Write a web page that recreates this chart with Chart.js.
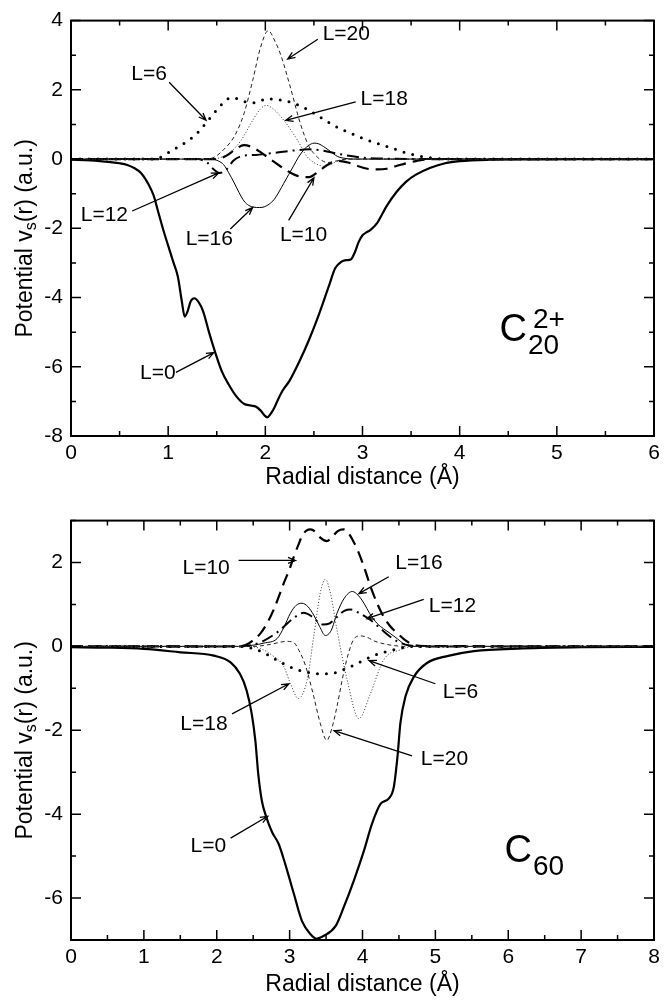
<!DOCTYPE html>
<html>
<head>
<meta charset="utf-8">
<script src="https://cdn.jsdelivr.net/npm/chart.js@4.4.1/dist/chart.umd.min.js"></script>
<style>
  body { margin: 0; background: #fff; }
  canvas { display: block; }
</style>
</head>
<body>
<canvas id="c20" width="666" height="500"></canvas>
<canvas id="c60" width="666" height="501"></canvas>
<script>
const FONT = "'Liberation Sans', Arial, Helvetica, sans-serif";

// ---- C20 2+ : partial potentials v_s(r), r in Angstrom, v in a.u. ----
const r20_L0 = [0, 0.2, 0.41, 0.5, 0.58, 0.65, 0.72, 0.8, 0.85, 0.9, 0.95, 1.0, 1.05, 1.1, 1.14, 1.17, 1.2, 1.23, 1.27, 1.31, 1.36, 1.42, 1.48, 1.55, 1.62, 1.7, 1.78, 1.85, 1.9, 1.95, 1.99, 2.02, 2.05, 2.09, 2.13, 2.18, 2.25, 2.35, 2.45, 2.55, 2.65, 2.72, 2.78, 2.83, 2.88, 2.92, 2.96, 3.0, 3.04, 3.08, 3.15, 3.25, 3.35, 3.45, 3.55, 3.7, 3.85, 4.0, 4.3, 4.7, 5.2, 6.0];
const v20_L0 = [-0.02, -0.04, -0.09, -0.12, -0.17, -0.26, -0.4, -0.74, -1.05, -1.55, -2.05, -2.5, -2.95, -3.4, -4.1, -4.55, -4.4, -4.12, -4.02, -4.12, -4.4, -5.0, -5.55, -6.12, -6.5, -6.85, -7.07, -7.12, -7.15, -7.26, -7.4, -7.46, -7.38, -7.2, -6.95, -6.68, -6.4, -5.85, -5.22, -4.5, -3.7, -3.15, -2.97, -2.92, -2.9, -2.7, -2.4, -2.2, -2.12, -2.05, -1.85, -1.35, -0.95, -0.65, -0.45, -0.25, -0.12, -0.06, -0.02, -0.01, 0, 0];

const r20_L6 = [0, 0.8, 0.9, 1.0, 1.1, 1.2, 1.3, 1.4, 1.5, 1.58, 1.65, 1.72, 1.8, 1.88, 1.95, 2.02, 2.1, 2.2, 2.3, 2.4, 2.5, 2.6, 2.7, 2.8, 2.9, 3.0, 3.1, 3.2, 3.3, 3.4, 3.5, 3.6, 3.7, 3.8, 4.0, 6.0];
const v20_L6 = [0, 0, 0.03, 0.18, 0.35, 0.52, 0.75, 1.08, 1.42, 1.66, 1.78, 1.74, 1.65, 1.63, 1.68, 1.75, 1.72, 1.69, 1.6, 1.48, 1.32, 1.15, 0.98, 0.84, 0.72, 0.6, 0.5, 0.41, 0.32, 0.22, 0.14, 0.08, 0.04, 0.01, 0, 0];

const r20_L10 = [0, 1.5, 1.6, 1.7, 1.78, 1.86, 1.95, 2.05, 2.15, 2.25, 2.35, 2.45, 2.55, 2.65, 2.75, 2.85, 2.95, 3.05, 3.15, 3.25, 3.35, 3.45, 3.55, 3.7, 6];
const v20_L10 = [0, 0, 0.1, 0.3, 0.4, 0.35, 0.2, 0, -0.2, -0.38, -0.5, -0.52, -0.35, -0.15, -0.05, -0.1, -0.2, -0.28, -0.3, -0.28, -0.2, -0.12, -0.06, 0, 0];

const r20_L12 = [0, 1.3, 1.4, 1.47, 1.53, 1.6, 1.67, 1.75, 1.9, 2.1, 2.3, 2.45, 2.6, 2.75, 2.9, 3.05, 3.3, 3.6, 6];
const v20_L12 = [0, 0, -0.1, -0.3, -0.4, -0.3, -0.05, 0.08, 0.12, 0.18, 0.25, 0.28, 0.24, 0.15, 0.08, 0.03, 0.01, 0, 0];

const r20_L16 = [0, 1.45, 1.52, 1.57, 1.62, 1.68, 1.73, 1.78, 1.83, 1.88, 1.94, 1.99, 2.04, 2.09, 2.14, 2.19, 2.24, 2.29, 2.34, 2.4, 2.45, 2.5, 2.55, 2.6, 2.67, 2.74, 2.82, 2.9, 6];
const v20_L16 = [0, 0, -0.06, -0.16, -0.38, -0.69, -0.97, -1.21, -1.34, -1.39, -1.4, -1.38, -1.3, -1.17, -0.95, -0.7, -0.45, -0.2, 0.05, 0.28, 0.4, 0.46, 0.44, 0.36, 0.22, 0.08, 0.02, 0, 0];

const r20_L18 = [0, 1.45, 1.52, 1.63, 1.75, 1.87, 1.95, 2.01, 2.08, 2.19, 2.33, 2.43, 2.54, 2.62, 2.71, 2.8, 2.9, 6];
const v20_L18 = [0, 0, 0.03, 0.17, 0.54, 1.12, 1.45, 1.55, 1.45, 1.12, 0.55, 0.07, -0.16, -0.21, -0.1, -0.02, 0, 0];

const r20_L20 = [0, 1.4, 1.49, 1.57, 1.68, 1.78, 1.87, 1.95, 2.03, 2.1, 2.16, 2.26, 2.36, 2.45, 2.52, 2.57, 2.64, 2.72, 2.85, 6];
const v20_L20 = [0, 0, 0.08, 0.27, 0.65, 1.31, 2.27, 3.22, 3.71, 3.4, 3.0, 2.05, 1.03, 0.36, 0.1, -0.02, -0.1, -0.06, 0, 0];

// ---- C60 ----
const r60_L0 = [0, 0.5, 1.0, 1.5, 1.96, 2.19, 2.32, 2.41, 2.48, 2.53, 2.57, 2.62, 2.68, 2.76, 2.85, 2.94, 3.06, 3.17, 3.29, 3.37, 3.47, 3.63, 3.74, 3.88, 4.02, 4.13, 4.25, 4.36, 4.43, 4.48, 4.52, 4.59, 4.71, 4.89, 5.16, 5.53, 6.2, 7.0, 8.0];
const v60_L0 = [-0.02, -0.03, -0.06, -0.14, -0.22, -0.38, -0.66, -1.05, -1.61, -2.25, -3.05, -3.69, -4.07, -4.43, -4.71, -5.19, -5.91, -6.55, -6.87, -6.97, -6.9, -6.67, -6.23, -5.59, -4.87, -4.23, -3.75, -3.63, -3.35, -2.63, -1.83, -1.19, -0.71, -0.39, -0.23, -0.11, -0.05, -0.02, -0.01];

const r60_L6 = [0, 2.3, 2.5, 2.7, 2.83, 3.06, 3.2, 3.38, 3.56, 3.7, 3.84, 3.97, 4.11, 4.25, 4.38, 4.55, 4.7, 8];
const v60_L6 = [0, 0, -0.05, -0.2, -0.33, -0.53, -0.6, -0.65, -0.65, -0.58, -0.48, -0.37, -0.25, -0.16, -0.1, -0.03, 0, 0];

const r60_L10 = [0, 2.2, 2.37, 2.48, 2.6, 2.7, 2.78, 2.85, 2.92, 3.0, 3.06, 3.12, 3.17, 3.23, 3.29, 3.36, 3.43, 3.51, 3.58, 3.66, 3.74, 3.8, 3.87, 3.93, 4.02, 4.11, 4.2, 4.29, 4.38, 4.48, 4.6, 4.71, 4.85, 8];
const v60_L10 = [0, 0, 0.02, 0.12, 0.31, 0.58, 0.87, 1.18, 1.51, 1.85, 2.15, 2.42, 2.63, 2.76, 2.79, 2.72, 2.58, 2.51, 2.6, 2.75, 2.79, 2.72, 2.52, 2.31, 1.9, 1.43, 1.03, 0.71, 0.48, 0.31, 0.13, 0.03, 0.01, 0];

const r60_L12 = [0, 2.3, 2.5, 2.65, 2.8, 2.92, 3.05, 3.19, 3.3, 3.38, 3.46, 3.55, 3.65, 3.75, 3.84, 3.95, 4.11, 4.25, 4.38, 4.5, 4.65, 4.8, 8];
const v60_L12 = [0, 0, 0.04, 0.14, 0.3, 0.47, 0.67, 0.8, 0.72, 0.6, 0.52, 0.55, 0.7, 0.85, 0.88, 0.8, 0.63, 0.42, 0.23, 0.1, 0.02, 0, 0];

const r60_L16 = [0, 2.3, 2.5, 2.65, 2.83, 2.92, 3.01, 3.09, 3.17, 3.25, 3.33, 3.41, 3.49, 3.57, 3.65, 3.75, 3.86, 3.94, 4.02, 4.1, 4.2, 4.29, 4.38, 4.48, 4.57, 4.7, 8];
const v60_L16 = [0, 0, 0.03, 0.08, 0.19, 0.45, 0.79, 0.98, 1.03, 0.95, 0.75, 0.48, 0.26, 0.38, 0.79, 1.15, 1.31, 1.22, 1.03, 0.78, 0.55, 0.42, 0.31, 0.18, 0.06, 0, 0];

const r60_L18 = [0, 2.4, 2.6, 2.75, 2.92, 3.01, 3.12, 3.24, 3.33, 3.42, 3.49, 3.56, 3.65, 3.79, 3.95, 4.11, 4.29, 4.52, 4.7, 8];
const v60_L18 = [0, 0, -0.05, -0.2, -0.48, -0.88, -1.24, -0.8, 0.23, 1.27, 1.6, 1.27, 0.39, -0.8, -1.72, -1.12, -0.32, -0.08, 0, 0];

const r60_L20 = [0, 2.5, 2.74, 2.96, 3.05, 3.13, 3.22, 3.33, 3.42, 3.51, 3.58, 3.65, 3.74, 3.81, 3.88, 3.97, 4.06, 4.16, 4.3, 4.43, 4.6, 8];
const v60_L20 = [0, 0, 0.05, 0.12, 0.1, -0.1, -0.47, -1.19, -1.83, -2.24, -1.95, -1.43, -0.64, -0.15, 0.17, 0.25, 0.22, 0.13, 0.06, 0.02, 0, 0];

// curve labels: text anchor (left, middle), arrow tail and arrow head, in data units
const notes20 = [
  { text: 'L=20', at: [2.59, 3.6],   from: [2.54, 3.46],  to: [2.23, 2.89] },
  { text: 'L=6',  at: [0.62, 2.45],  from: [1.01, 2.22],  to: [1.39, 1.12] },
  { text: 'L=18', at: [2.98, 1.74],  from: [2.93, 1.65],  to: [2.21, 1.12] },
  { text: 'L=12', at: [0.1, -1.63],  from: [0.63, -1.5],  to: [1.52, -0.4] },
  { text: 'L=16', at: [1.18, -2.31], from: [1.64, -2.02], to: [1.87, -1.4] },
  { text: 'L=10', at: [2.15, -2.2],  from: [2.24, -1.77], to: [2.5, -0.54] },
  { text: 'L=0',  at: [0.71, -6.2],  from: [1.08, -6.16], to: [1.47, -5.59] }
];
const notes60 = [
  { text: 'L=10', at: [1.53, 1.87],  from: [2.3, 2.05],   to: [3.08, 2.05] },
  { text: 'L=16', at: [4.45, 1.99],  from: [4.36, 1.66],  to: [3.95, 1.26] },
  { text: 'L=12', at: [4.91, 0.96],  from: [4.84, 1.12],  to: [4.06, 0.66] },
  { text: 'L=6',  at: [5.1, -1.1],   from: [5.0, -0.89],  to: [4.09, -0.34] },
  { text: 'L=18', at: [1.5, -1.85],  from: [2.21, -1.61], to: [2.99, -0.89] },
  { text: 'L=20', at: [4.8, -2.69],  from: [4.68, -2.61], to: [3.61, -2.01] },
  { text: 'L=0',  at: [1.64, -4.77], from: [2.19, -4.57], to: [2.7, -4.05] }
];

// line style per angular momentum
const LINE_STYLE = {
  0:  { width: 2.2, dash: [] },
  6:  { width: 3,   dash: [0, 9], cap: 'round' },
  10: { width: 2.2, dash: [12, 7] },
  12: { width: 2,   dash: [12, 5, 2, 5] },
  16: { width: 1,   dash: [] },
  18: { width: 1,   dash: [1, 2], color: '#333' },
  20: { width: 1,   dash: [4, 3], color: '#222' }
};

function curve(L, r, v) {
  const s = LINE_STYLE[L];
  return {
    label: 'L=' + L,
    data: r.map((x, i) => ({ x, y: v[i] })),
    borderColor: s.color || '#000',
    borderWidth: s.width,
    borderDash: s.dash,
    borderCapStyle: s.cap || 'butt',
    pointRadius: 0,
    cubicInterpolationMode: 'monotone',
    fill: false
  };
}

function isMultiple(v, step) {
  const q = v / step;
  return Math.abs(q - Math.round(q)) < 1e-6;
}

function arrow(ctx, x0, y0, x1, y1) {
  const a = Math.atan2(y1 - y0, x1 - x0);
  const len = 8, spread = 0.38;
  ctx.beginPath();
  ctx.moveTo(x0, y0);
  ctx.lineTo(x1, y1);
  ctx.moveTo(x1 - len * Math.cos(a - spread), y1 - len * Math.sin(a - spread));
  ctx.lineTo(x1, y1);
  ctx.lineTo(x1 - len * Math.cos(a + spread), y1 - len * Math.sin(a + spread));
  ctx.stroke();
}

// frame with inward ticks, axis titles, curve labels and the molecule name
const framePlugin = {
  id: 'frame',
  afterDatasetsDraw(chart, args, opts) {
    const { ctx, chartArea: a, scales: { x, y } } = chart;
    ctx.save();
    ctx.strokeStyle = '#000';
    ctx.fillStyle = '#000';
    ctx.lineWidth = 2;
    ctx.strokeRect(a.left, a.top, a.right - a.left, a.bottom - a.top);

    ctx.lineWidth = 1.5;
    ctx.beginPath();
    for (let v = x.min; v <= x.max + 1e-9; v += opts.xMinor) {
      const px = x.getPixelForValue(v);
      const len = isMultiple(v, opts.xMajor) ? 10 : 5;
      ctx.moveTo(px, a.bottom); ctx.lineTo(px, a.bottom - len);
      ctx.moveTo(px, a.top); ctx.lineTo(px, a.top + len);
    }
    for (let v = y.min; v <= y.max + 1e-9; v += opts.yMinor) {
      const py = y.getPixelForValue(v);
      const len = isMultiple(v, opts.yMajor) ? 10 : 5;
      ctx.moveTo(a.left, py); ctx.lineTo(a.left + len, py);
      ctx.moveTo(a.right, py); ctx.lineTo(a.right - len, py);
    }
    ctx.stroke();

    // x title
    ctx.font = `23px ${FONT}`;
    ctx.textAlign = 'center';
    ctx.textBaseline = 'middle';
    ctx.fillText('Radial distance (Å)', (a.left + a.right) / 2, a.bottom + opts.titleGap);

    // y title with subscript, rotated
    const parts = [['Potential v', 23, 0], ['s', 16, 6], ['(r) (a.u.)', 23, 0]];
    let total = 0;
    parts.forEach(p => { ctx.font = `${p[1]}px ${FONT}`; p.push(ctx.measureText(p[0]).width); total += p[3]; });
    ctx.save();
    ctx.translate(26, (a.top + a.bottom) / 2 + 10);
    ctx.rotate(-Math.PI / 2);
    ctx.textAlign = 'left';
    let cx = -total / 2;
    parts.forEach(p => {
      ctx.font = `${p[1]}px ${FONT}`;
      ctx.fillText(p[0], cx, p[2]);
      cx += p[3];
    });
    ctx.restore();

    // curve labels with arrows
    ctx.font = `21px ${FONT}`;
    ctx.textAlign = 'left';
    ctx.textBaseline = 'middle';
    ctx.lineWidth = 1.3;
    opts.notes.forEach(n => {
      ctx.fillText(n.text, x.getPixelForValue(n.at[0]), y.getPixelForValue(n.at[1]));
      arrow(ctx, x.getPixelForValue(n.from[0]), y.getPixelForValue(n.from[1]),
        x.getPixelForValue(n.to[0]), y.getPixelForValue(n.to[1]));
    });

    // molecule symbol
    const m = opts.molecule;
    const mx = x.getPixelForValue(m.at[0]), my = y.getPixelForValue(m.at[1]);
    ctx.textBaseline = 'alphabetic';
    ctx.font = `38px ${FONT}`;
    ctx.fillText('C', mx, my);
    const cw = ctx.measureText('C').width;
    ctx.font = `28px ${FONT}`;
    ctx.fillText(m.sub, mx + cw + 1, my + 13);
    if (m.sup) ctx.fillText(m.sup, mx + cw + 6, my - 13);
    ctx.restore();
  }
};

function makePanel(id, cfg) {
  new Chart(document.getElementById(id), {
    type: 'line',
    data: { datasets: cfg.datasets },
    options: {
      responsive: false,
      animation: false,
      layout: { padding: { top: cfg.padTop, right: 12, left: 0, bottom: 0 } },
      plugins: {
        legend: { display: false },
        tooltip: { enabled: false },
        frame: {
          xMajor: 1, xMinor: 0.5, yMajor: 2, yMinor: 1,
          titleGap: cfg.titleGap,
          notes: cfg.notes,
          molecule: cfg.molecule
        }
      },
      scales: {
        x: {
          type: 'linear',
          min: 0,
          max: cfg.xMax,
          afterFit: s => { s.height = cfg.xHeight; },
          border: { display: false },
          grid: { display: false, drawTicks: false },
          ticks: { stepSize: 1, padding: 5, color: '#000', font: { family: FONT, size: 21 } }
        },
        y: {
          min: cfg.yMin,
          max: cfg.yMax,
          afterFit: s => { s.width = 71; },
          border: { display: false },
          grid: { display: false, drawTicks: false },
          ticks: {
            stepSize: 1,
            padding: 8,
            color: '#000',
            font: { family: FONT, size: 21 },
            callback: v => (isMultiple(v, 2) ? String(v) : '')
          }
        }
      }
    },
    plugins: [framePlugin]
  });
}

makePanel('c20', {
  xMax: 6, yMin: -8, yMax: 4, padTop: 16, xHeight: 64, titleGap: 42,
  notes: notes20,
  molecule: { at: [4.41, -5.26], sub: '20', sup: '2+' },
  datasets: [
    curve(20, r20_L20, v20_L20),
    curve(18, r20_L18, v20_L18),
    curve(16, r20_L16, v20_L16),
    curve(12, r20_L12, v20_L12),
    curve(10, r20_L10, v20_L10),
    curve(6, r20_L6, v20_L6),
    curve(0, r20_L0, v20_L0)
  ]
});

makePanel('c60', {
  xMax: 8, yMin: -7, yMax: 3, padTop: 20, xHeight: 61, titleGap: 45,
  notes: notes60,
  molecule: { at: [5.95, -5.13], sub: '60' },
  datasets: [
    curve(20, r60_L20, v60_L20),
    curve(18, r60_L18, v60_L18),
    curve(16, r60_L16, v60_L16),
    curve(12, r60_L12, v60_L12),
    curve(10, r60_L10, v60_L10),
    curve(6, r60_L6, v60_L6),
    curve(0, r60_L0, v60_L0)
  ]
});
</script>
</body>
</html>
